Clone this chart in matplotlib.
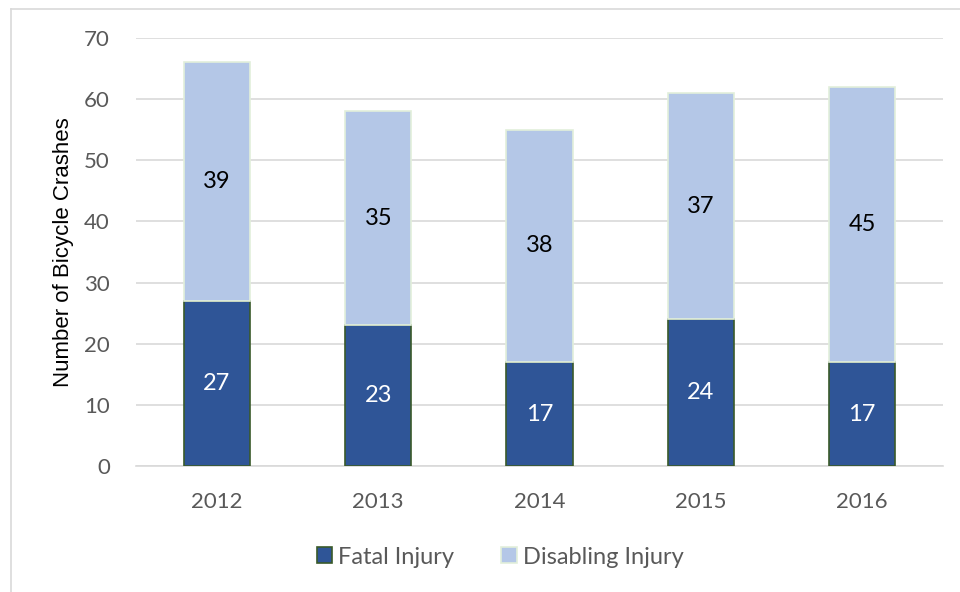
import matplotlib.pyplot as plt
import numpy as np
from matplotlib.lines import Line2D

years = ['2012', '2013', '2014', '2015', '2016']
fatal = [27, 23, 17, 24, 17]
disabling = [39, 35, 38, 37, 45]

fatal_color = '#2F5597'
disabling_color = '#B4C7E7'
text_color = '#595959'

plt.rcParams['font.family'] = ['Lato', 'DejaVu Sans']

fig = plt.figure(figsize=(9.6, 5.92), dpi=100)
ax = fig.add_axes([0.142, 0.2128, 0.840, 0.7230])

x = np.arange(len(years))
w = 0.41
b1 = ax.bar(x, fatal, w, color=fatal_color, edgecolor='#3A5A2A', linewidth=1.2,
            label='Fatal Injury', zorder=3)
b2 = ax.bar(x, disabling, w, bottom=fatal, color=disabling_color, edgecolor='#E2EFDA',
            linewidth=1.2, label='Disabling Injury', zorder=3)

# value labels in the middle of each segment
for xi, f, d in zip(x, fatal, disabling):
    ax.text(xi, f / 2, str(f), ha='center', va='center', color='white', fontsize=17, zorder=4)
    ax.text(xi, f + d / 2, str(d), ha='center', va='center', color='black', fontsize=17, zorder=4)

ax.set_xlim(-0.5, len(years) - 0.5)
ax.set_ylim(0, 70)
ax.set_yticks(range(0, 71, 10))
ax.set_xticks(x)
ax.set_xticklabels(years)
ax.yaxis.grid(True, color='#D9D9D9', linewidth=1.2, zorder=0)
ax.tick_params(axis='both', length=0, labelsize=16, colors=text_color)
ax.tick_params(axis='x', pad=19)
ax.tick_params(axis='y', pad=19)
for s in ['top', 'right', 'left']:
    ax.spines[s].set_visible(False)
ax.spines['bottom'].set_color('#D9D9D9')
ax.spines['bottom'].set_linewidth(1.2)

ax.set_ylabel('Number of Bicycle Crashes', fontsize=16, color='black',
              family=['Liberation Sans', 'DejaVu Sans'])
ax.yaxis.set_label_coords(-0.077, 0.5)

handles = [b1, b2]
leg = fig.legend(handles, ['Fatal Injury', 'Disabling Injury'], loc='center',
                 bbox_to_anchor=(0.521, 0.059), ncol=2, frameon=False, fontsize=17,
                 handlelength=0.65, handleheight=0.65, handletextpad=0.25, columnspacing=2.0)
for t in leg.get_texts():
    t.set_color(text_color)

# chart frame
fig.add_artist(Line2D([11 / 960, 11 / 960], [0, 1 - 9 / 592], color='#D9D9D9', linewidth=1.2))
fig.add_artist(Line2D([11 / 960, 1], [1 - 9 / 592, 1 - 9 / 592], color='#D9D9D9', linewidth=1.2))

fig.savefig('out.png', dpi=100, facecolor='white')
